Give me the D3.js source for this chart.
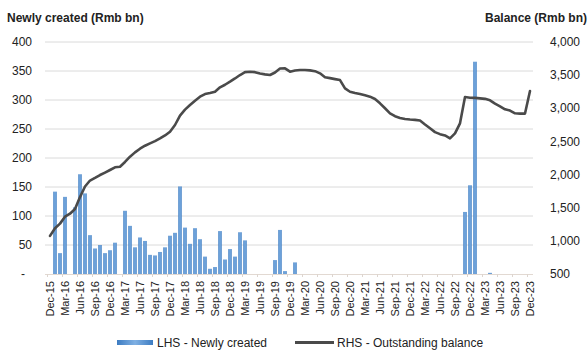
<!DOCTYPE html>
<html><head><meta charset="utf-8">
<script src="https://cdn.jsdelivr.net/npm/d3@7"></script>
<style>
html,body{margin:0;padding:0;background:#fff;}
svg{display:block;font-family:"Liberation Sans",Arial,sans-serif;}
</style></head>
<body><svg id="chart" width="588" height="351"></svg>
<script>
// Monthly, Dec-15 .. Dec-23 (97 months)
const startMonth = "2015-12";
const monthCount = 97;
const newlyCreated = [
  0,142,36,133,0,115,172,139,67,44,50,36,41,
  54,0,109,83,46,63,57,33,32,38,46,66,71,
  151,80,52,79,60,30,9,12,74,25,43,30,72,58,
  0,0,0,0,0,24,76,5,0,20,0,0,0,
  0,0,0,0,0,0,0,0,0,0,0,0,0,
  0,0,0,0,0,0,0,0,0,0,0,0,0,
  0,0,0,0,107,153,366,0,0,2,0,0,0,
  0,0,0,0,0,350
];
const outstandingBalance = [
  1075,1190,1260,1364,1410,1480,1660,1820,1910,1950,1993,2030,2069,
  2110,2119,2190,2270,2335,2390,2435,2470,2505,2545,2590,2647,2748,
  2890,2980,3050,3115,3175,3215,3230,3250,3316,3355,3401,3450,3502,3545,
  3552,3545,3525,3512,3502,3540,3600,3603,3552,3570,3577,3577,3572,
  3560,3527,3467,3455,3440,3426,3300,3250,3230,3215,3195,3175,3140,
  3075,3000,2924,2880,2855,2838,2830,2825,2815,2755,2698,2640,2610,
  2590,2547,2622,2773,3170,3160,3157,3150,3142,3120,3070,3030,2985,
  2965,2924,2920,2920,3260
];
const leftTicks = [0,50,100,150,200,250,300,350,400];
const leftTickLabels = ["-","50","100","150","200","250","300","350","400"];
const rightTicks = [500,1000,1500,2000,2500,3000,3500,4000];
const rightTickLabels = ["500","1,000","1,500","2,000","2,500","3,000","3,500","4,000"];
const xTickLabels = ["Dec-15","Mar-16","Jun-16","Sep-16","Dec-16","Mar-17","Jun-17","Sep-17","Dec-17",
  "Mar-18","Jun-18","Sep-18","Dec-18","Mar-19","Jun-19","Sep-19","Dec-19","Mar-20","Jun-20","Sep-20",
  "Dec-20","Mar-21","Jun-21","Sep-21","Dec-21","Mar-22","Jun-22","Sep-22","Dec-22","Mar-23","Jun-23",
  "Sep-23","Dec-23"];
const leftTitle = "Newly created (Rmb bn)";
const rightTitle = "Balance (Rmb bn)";
const legendBar = "LHS - Newly created";
const legendLine = "RHS - Outstanding balance";

const months = d3.range(monthCount);
const svg = d3.select("#chart");

const x = d3.scaleBand().domain(months).range([47.5, 532.5]).paddingInner(0.3).paddingOuter(0.15);
const xc = i => x(i) + x.bandwidth()/2;
const yL = d3.scaleLinear().domain([0,400]).range([274,42]);
const yR = d3.scaleLinear().domain([500,4000]).range([274,42]);

// gradient for bars
const defs = svg.append("defs");
const g = defs.append("linearGradient").attr("id","barGrad").attr("x1","0").attr("x2","1").attr("y1","0").attr("y2","0");
g.append("stop").attr("offset","0%").attr("stop-color","#3d7cc2");
g.append("stop").attr("offset","50%").attr("stop-color","#7fb0e3");
g.append("stop").attr("offset","100%").attr("stop-color","#3d7cc2");

// gridlines
svg.append("g").selectAll("line").data(leftTicks.filter(d=>d>0)).join("line")
  .attr("x1",45).attr("x2",533).attr("y1",d=>yL(d)).attr("y2",d=>yL(d))
  .attr("stroke","#dadada").attr("stroke-width",1);

// base axis
svg.append("line").attr("x1",45).attr("x2",533).attr("y1",yL(0)+0.5).attr("y2",yL(0)+0.5)
  .attr("stroke","#e2d9d2").attr("stroke-width",1);
svg.append("g").selectAll("line").data(d3.range(0,monthCount+1,3)).join("line")
  .attr("x1",d=>47.5+d*5).attr("x2",d=>47.5+d*5).attr("y1",yL(0)).attr("y2",yL(0)+3)
  .attr("stroke","#ddd5cf");

// bars
svg.append("g").selectAll("rect").data(months.filter(i=>newlyCreated[i]>0)).join("rect")
  .attr("x",i=>x(i)).attr("width",x.bandwidth())
  .attr("y",i=>yL(newlyCreated[i])).attr("height",i=>yL(0)-yL(newlyCreated[i]))
  .attr("fill","url(#barGrad)");

// line
const line = d3.line().x(i=>xc(i)).y(i=>yR(outstandingBalance[i]));
svg.append("path").datum(months).attr("d",line)
  .attr("fill","none").attr("stroke","#4a4a4a").attr("stroke-width",2.6)
  .attr("stroke-linejoin","round").attr("stroke-linecap","round");

// left axis labels
svg.append("g").selectAll("text").data(leftTicks).join("text")
  .attr("x",(d,i)=> d===0 ? 25 : 32).attr("y",d=>yL(d)).attr("dy","0.35em")
  .attr("text-anchor","end").attr("font-size",12).attr("fill","#222")
  .text((d,i)=>leftTickLabels[i]);

// right axis labels
svg.append("g").selectAll("text").data(rightTicks).join("text")
  .attr("x",550).attr("y",d=>yR(d)).attr("dy","0.35em")
  .attr("text-anchor","start").attr("font-size",12).attr("fill","#222")
  .text((d,i)=>rightTickLabels[i]);

// x labels
svg.append("g").selectAll("text").data(xTickLabels).join("text")
  .attr("transform",(d,i)=>`translate(${xc(i*3)+0.5},281) rotate(-90)`)
  .attr("text-anchor","end").attr("dy","0.35em")
  .attr("font-size",11).attr("fill","#222").text(d=>d);

// titles
svg.append("text").attr("x",7).attr("y",22).attr("font-size",12).attr("font-weight","bold")
  .attr("fill","#222").text(leftTitle);
svg.append("text").attr("x",587).attr("y",22).attr("text-anchor","end").attr("font-size",12)
  .attr("font-weight","bold").attr("fill","#222").text(rightTitle);

// legend
svg.append("rect").attr("x",117).attr("y",340).attr("width",36).attr("height",5).attr("fill","url(#barGrad)");
svg.append("text").attr("x",157).attr("y",343).attr("dy","0.35em").attr("font-size",12).attr("fill","#222").text(legendBar);
svg.append("line").attr("x1",295).attr("x2",334).attr("y1",342.5).attr("y2",342.5)
  .attr("stroke","#4a4a4a").attr("stroke-width",3);
svg.append("text").attr("x",337).attr("y",343).attr("dy","0.35em").attr("font-size",12).attr("fill","#222").text(legendLine);
</script>
</body></html>
